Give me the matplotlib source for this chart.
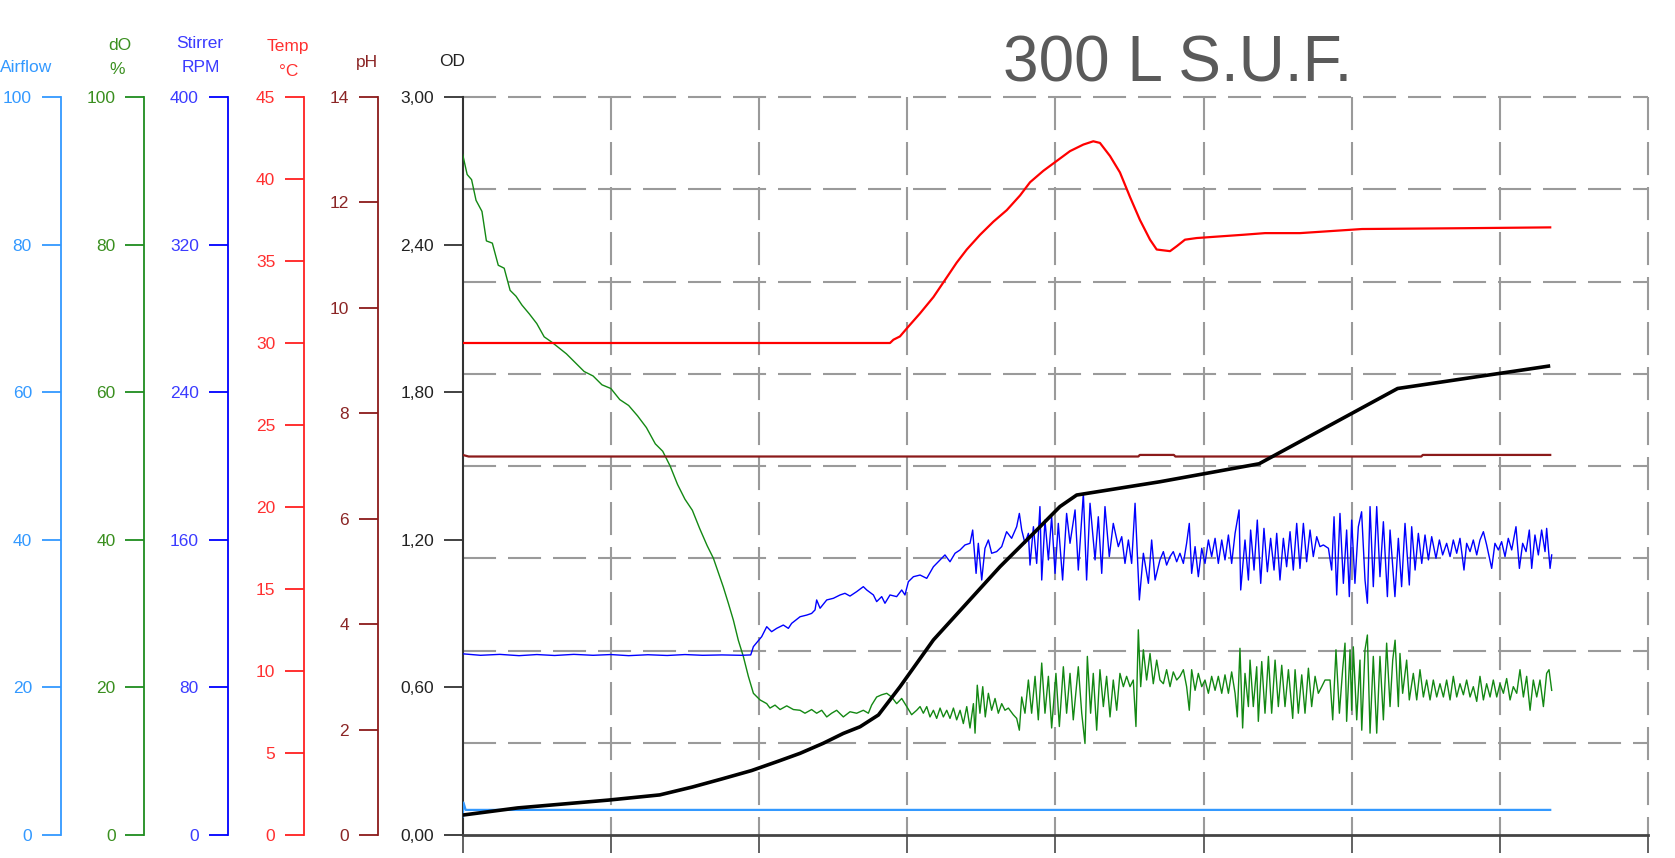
import matplotlib
matplotlib.use("Agg")
import matplotlib.pyplot as plt
import matplotlib.transforms as mtransforms

plt.rcParams['font.family'] = ['Liberation Sans', 'DejaVu Sans']
plt.rcParams['lines.scale_dashes'] = False

# ---------------- data (time in grid units 0..8) ----------------
title = "300 L S.U.F."

od_t = [0.000, 0.370, 0.985, 1.330, 1.550, 1.750, 1.950, 2.130, 2.277, 2.434,
        2.569, 2.682, 2.806, 2.952, 3.177, 3.402, 3.627, 3.852, 4.031, 4.144,
        4.706, 5.375, 6.310, 7.340]
od_val = [0.081, 0.110, 0.142, 0.163, 0.195, 0.228, 0.262, 0.300, 0.332, 0.373,
          0.413, 0.440, 0.488, 0.603, 0.793, 0.942, 1.091, 1.226, 1.335, 1.382,
          1.436, 1.509, 1.815, 1.907]

airflow_t = [0.000, 0.005, 0.020, 7.340]
airflow_val = [2.5, 4.4, 3.4, 3.4]

ph_t = [0.000, 0.040, 4.560, 4.570, 4.800, 4.810, 6.470, 6.480, 7.340]
ph_val = [7.21, 7.18, 7.18, 7.21, 7.21, 7.18, 7.18, 7.21, 7.21]

temp_t = [0.000, 2.884, 2.907, 2.951, 3.008, 3.086, 3.177, 3.267, 3.334, 3.402,
          3.492, 3.582, 3.672, 3.762, 3.829, 3.919, 4.009, 4.099, 4.189, 4.256,
          4.301, 4.369, 4.436, 4.504, 4.571, 4.639, 4.684, 4.774, 4.819, 4.875,
          4.954, 5.111, 5.269, 5.415, 5.651, 6.070, 6.760, 7.340]
temp_val = [30.0, 30.0, 30.2, 30.4, 31.0, 31.8, 32.8, 34.0, 34.9, 35.7,
            36.6, 37.4, 38.1, 39.0, 39.8, 40.5, 41.1, 41.7, 42.1, 42.3,
            42.2, 41.4, 40.4, 38.9, 37.5, 36.3, 35.7, 35.6, 35.9, 36.3,
            36.4, 36.5, 36.6, 36.7, 36.7, 36.95, 37.0, 37.05]

stirrer_t = [
    0.000, 0.120, 0.250, 0.380, 0.500, 0.620, 0.750, 0.880, 1.000, 1.120,
    1.250, 1.380, 1.500, 1.620, 1.750, 1.880, 1.944, 1.962, 2.018, 2.052,
    2.085, 2.119, 2.164, 2.198, 2.220, 2.277, 2.322, 2.355, 2.378, 2.389,
    2.412, 2.457, 2.502, 2.547, 2.580, 2.614, 2.659, 2.704, 2.727, 2.772,
    2.794, 2.828, 2.850, 2.884, 2.929, 2.963, 2.985, 3.008, 3.042, 3.087,
    3.132, 3.177, 3.222, 3.255, 3.289, 3.323, 3.357, 3.390, 3.424, 3.442,
    3.465, 3.480, 3.503, 3.525, 3.548, 3.570, 3.604, 3.638, 3.671, 3.705,
    3.739, 3.757, 3.773, 3.795, 3.818, 3.829, 3.852, 3.874, 3.896, 3.908,
    3.930, 3.953, 3.975, 3.998, 4.020, 4.049, 4.076, 4.099, 4.133, 4.155,
    4.189, 4.211, 4.234, 4.268, 4.290, 4.313, 4.335, 4.364, 4.391, 4.425,
    4.448, 4.470, 4.493, 4.515, 4.538, 4.567, 4.594, 4.628, 4.650, 4.673,
    4.706, 4.729, 4.751, 4.774, 4.796, 4.819, 4.841, 4.864, 4.886, 4.904,
    4.920, 4.943, 4.965, 4.988, 5.010, 5.033, 5.055, 5.078, 5.100, 5.123,
    5.145, 5.168, 5.190, 5.213, 5.240, 5.251, 5.280, 5.303, 5.318, 5.341,
    5.363, 5.386, 5.408, 5.431, 5.453, 5.476, 5.494, 5.516, 5.539, 5.561,
    5.584, 5.606, 5.629, 5.651, 5.674, 5.696, 5.719, 5.741, 5.764, 5.786,
    5.809, 5.843, 5.865, 5.881, 5.899, 5.921, 5.944, 5.966, 5.984, 6.000,
    6.022, 6.045, 6.067, 6.090, 6.106, 6.124, 6.146, 6.169, 6.191, 6.214,
    6.241, 6.259, 6.292, 6.315, 6.337, 6.360, 6.389, 6.405, 6.428, 6.450,
    6.473, 6.495, 6.518, 6.540, 6.569, 6.592, 6.614, 6.641, 6.664, 6.686,
    6.709, 6.731, 6.758, 6.776, 6.799, 6.821, 6.844, 6.866, 6.889, 6.911,
    6.945, 6.967, 6.990, 7.012, 7.035, 7.057, 7.080, 7.109, 7.132, 7.154,
    7.177, 7.199, 7.215, 7.237, 7.260, 7.282, 7.305, 7.316, 7.339, 7.350]
stirrer_val = [
    98.2, 97.4, 97.9, 97.2, 97.8, 97.3, 97.9, 97.4, 97.8, 97.2,
    97.7, 97.3, 97.8, 97.4, 97.6, 97.4, 97.6, 102.1, 107.5, 112.9,
    110.2, 112.0, 113.8, 112.0, 114.7, 118.3, 119.2, 120.1, 122.0, 127.4,
    122.9, 127.4, 128.3, 130.1, 131.0, 129.5, 131.9, 134.6, 132.8, 130.1,
    126.5, 129.2, 125.6, 130.1, 129.2, 132.8, 130.1, 137.3, 140.0, 140.9,
    139.1, 145.4, 149.1, 151.8, 148.1, 152.7, 154.5, 157.2, 158.1, 165.3,
    141.8, 158.1, 138.2, 155.4, 159.9, 152.7, 153.6, 156.3, 164.4, 160.8,
    167.1, 174.3, 165.3, 158.1, 163.5, 146.3, 167.1, 147.2, 178.0, 138.2,
    170.7, 149.1, 172.5, 141.8, 168.9, 138.2, 174.3, 158.1, 176.2, 143.6,
    185.2, 138.2, 179.8, 149.1, 172.5, 141.8, 178.0, 150.9, 168.9, 156.3,
    161.7, 147.2, 159.9, 147.2, 179.8, 127.4, 152.7, 136.4, 159.9, 138.2,
    149.1, 153.6, 146.3, 150.9, 153.6, 148.1, 152.7, 147.2, 158.1, 168.9,
    141.8, 156.3, 140.0, 155.4, 147.2, 159.9, 150.9, 160.8, 147.2, 159.9,
    149.1, 162.6, 147.2, 163.5, 176.2, 132.8, 159.9, 138.2, 165.3, 143.6,
    170.7, 136.4, 166.2, 142.7, 160.8, 143.6, 163.5, 138.2, 160.8, 145.4,
    164.4, 143.6, 168.9, 144.5, 168.9, 148.1, 165.3, 150.9, 161.7, 156.3,
    157.2, 155.4, 143.6, 172.5, 130.1, 174.3, 136.4, 165.3, 129.2, 170.7,
    136.4, 167.1, 175.2, 138.2, 125.6, 178.0, 134.6, 178.0, 140.0, 169.8,
    129.2, 165.3, 129.2, 160.8, 134.6, 168.9, 135.5, 167.1, 143.6, 163.5,
    147.2, 162.6, 149.1, 161.7, 150.0, 159.9, 151.8, 158.1, 150.9, 159.9,
    152.7, 160.8, 143.6, 158.1, 153.6, 159.9, 151.8, 159.9, 164.4, 157.2,
    144.5, 158.1, 154.5, 159.0, 150.9, 160.8, 154.5, 167.1, 144.5, 158.1,
    153.6, 165.3, 144.5, 162.6, 151.8, 165.3, 153.6, 166.2, 144.5, 151.8]

do_t = [
    0.000, 0.030, 0.060, 0.090, 0.130, 0.160, 0.200, 0.240, 0.280, 0.320,
    0.360, 0.400, 0.450, 0.500, 0.550, 0.600, 0.650, 0.700, 0.760, 0.820,
    0.880, 0.940, 1.000, 1.060, 1.120, 1.180, 1.240, 1.300, 1.350, 1.400,
    1.450, 1.500, 1.550, 1.600, 1.650, 1.692, 1.759, 1.793, 1.827, 1.860,
    1.894, 1.928, 1.962, 2.007, 2.052, 2.074, 2.108, 2.142, 2.187, 2.232,
    2.277, 2.310, 2.355, 2.389, 2.423, 2.457, 2.490, 2.524, 2.569, 2.614,
    2.659, 2.704, 2.738, 2.760, 2.794, 2.828, 2.862, 2.895, 2.929, 2.963,
    2.997, 3.030, 3.064, 3.087, 3.109, 3.132, 3.154, 3.177, 3.199, 3.222,
    3.244, 3.267, 3.289, 3.312, 3.334, 3.357, 3.379, 3.402, 3.424, 3.447,
    3.458, 3.473, 3.491, 3.510, 3.527, 3.548, 3.570, 3.593, 3.615, 3.638,
    3.660, 3.683, 3.716, 3.739, 3.757, 3.773, 3.795, 3.818, 3.840, 3.863,
    3.885, 3.908, 3.930, 3.953, 3.975, 4.004, 4.027, 4.054, 4.076, 4.099,
    4.121, 4.155, 4.178, 4.200, 4.216, 4.238, 4.256, 4.279, 4.301, 4.324,
    4.346, 4.369, 4.391, 4.414, 4.436, 4.459, 4.481, 4.504, 4.526, 4.544,
    4.560, 4.576, 4.594, 4.616, 4.639, 4.661, 4.684, 4.706, 4.729, 4.751,
    4.774, 4.796, 4.819, 4.841, 4.864, 4.886, 4.904, 4.920, 4.943, 4.965,
    4.988, 5.010, 5.033, 5.055, 5.078, 5.100, 5.123, 5.145, 5.168, 5.190,
    5.213, 5.228, 5.246, 5.264, 5.280, 5.303, 5.314, 5.336, 5.359, 5.370,
    5.393, 5.415, 5.438, 5.460, 5.483, 5.505, 5.528, 5.550, 5.573, 5.602,
    5.618, 5.640, 5.663, 5.685, 5.708, 5.730, 5.753, 5.775, 5.798, 5.820,
    5.854, 5.872, 5.894, 5.917, 5.939, 5.955, 5.966, 5.989, 6.000, 6.011,
    6.034, 6.056, 6.068, 6.090, 6.106, 6.124, 6.146, 6.169, 6.191, 6.214,
    6.236, 6.259, 6.277, 6.293, 6.315, 6.326, 6.344, 6.371, 6.389, 6.416,
    6.439, 6.461, 6.484, 6.506, 6.529, 6.551, 6.574, 6.596, 6.619, 6.641,
    6.664, 6.686, 6.709, 6.731, 6.754, 6.776, 6.799, 6.821, 6.844, 6.866,
    6.889, 6.911, 6.934, 6.956, 6.979, 7.001, 7.024, 7.046, 7.069, 7.091,
    7.114, 7.136, 7.159, 7.181, 7.204, 7.226, 7.249, 7.271, 7.294, 7.316,
    7.332, 7.350]
do_val = [
    92.2, 89.5, 88.8, 86.0, 84.5, 80.5, 80.2, 77.2, 76.8, 73.8,
    73.0, 71.8, 70.6, 69.3, 67.5, 66.8, 66.0, 65.2, 64.0, 62.8,
    62.2, 61.0, 60.5, 59.0, 58.2, 56.8, 55.2, 53.0, 52.0, 50.0,
    47.5, 45.5, 44.0, 41.5, 39.2, 37.5, 33.6, 31.4, 29.1, 26.4,
    24.2, 21.5, 19.2, 18.3, 17.8, 17.2, 17.6, 17.0, 17.5, 17.0,
    16.9, 16.5, 17.0, 16.5, 16.9, 16.0, 16.5, 16.9, 16.0, 16.7,
    16.5, 16.9, 16.5, 17.6, 18.7, 19.0, 19.2, 18.7, 17.8, 18.5,
    17.4, 16.3, 16.9, 17.4, 16.5, 17.4, 16.0, 16.9, 15.8, 17.2,
    16.0, 16.9, 15.8, 17.2, 15.6, 16.9, 15.1, 17.4, 14.5, 17.8,
    13.8, 20.3, 16.5, 20.1, 16.0, 19.2, 16.9, 18.5, 16.5, 17.8,
    16.9, 17.2, 16.3, 15.8, 14.2, 18.7, 16.5, 21.0, 16.5, 21.5,
    15.6, 23.3, 16.5, 21.5, 14.5, 21.9, 14.7, 22.8, 16.5, 21.9,
    15.6, 22.8, 16.5, 12.4, 24.2, 16.5, 21.9, 14.2, 22.4, 17.4,
    21.5, 16.0, 21.0, 16.9, 21.9, 20.1, 21.5, 20.1, 21.0, 14.7,
    27.8, 20.1, 25.1, 21.0, 24.6, 20.5, 23.7, 21.0, 20.5, 22.4,
    20.1, 22.1, 21.0, 21.5, 22.4, 20.1, 16.9, 22.4, 19.6, 21.9,
    20.1, 21.0, 19.2, 21.5, 19.6, 21.5, 19.2, 21.7, 19.2, 22.1,
    19.2, 16.0, 25.3, 14.5, 21.9, 17.4, 23.7, 17.4, 22.8, 15.4,
    23.5, 16.5, 24.2, 16.5, 23.7, 17.4, 23.0, 17.4, 22.4, 15.8,
    22.4, 16.5, 21.7, 16.5, 22.6, 17.4, 21.5, 19.2, 20.1, 21.0,
    21.0, 15.6, 25.1, 16.5, 22.4, 26.0, 15.4, 25.1, 16.9, 25.5,
    15.6, 23.7, 14.2, 25.1, 27.1, 13.8, 24.2, 13.8, 24.2, 15.6,
    26.0, 17.4, 23.7, 26.4, 17.4, 24.6, 19.2, 23.7, 18.3, 21.9,
    18.3, 22.4, 18.7, 21.0, 18.3, 21.0, 18.7, 20.5, 18.7, 21.0,
    18.3, 21.5, 18.7, 20.5, 19.0, 21.0, 18.7, 20.1, 18.1, 21.5,
    18.3, 20.5, 18.7, 21.0, 18.7, 20.5, 19.2, 21.2, 18.3, 20.1,
    19.2, 22.4, 18.7, 21.5, 16.9, 21.0, 18.7, 21.0, 17.4, 21.9,
    22.4, 19.6]

assert len(do_t) == len(do_val)
assert len(stirrer_t) == len(stirrer_val)
assert len(temp_t) == len(temp_val)
assert len(od_t) == len(od_val)

# axes scales
od_ticks = [0.0, 0.6, 1.2, 1.8, 2.4, 3.0]
od_ticklabels = ["0,00", "0,60", "1,20", "1,80", "2,40", "3,00"]
airflow_ticks = [0, 20, 40, 60, 80, 100]
do_ticks = [0, 20, 40, 60, 80, 100]
stirrer_ticks = [0, 80, 160, 240, 320, 400]
temp_ticks = [0, 5, 10, 15, 20, 25, 30, 35, 40, 45]
ph_ticks = [0, 2, 4, 6, 8, 10, 12, 14]
x_ticks = [0, 1, 2, 3, 4, 5, 6, 7, 8]
n_grid_rows = 8

# ---------------- figure ----------------
W, H = 1675, 858
fig = plt.figure(figsize=(W / 100, H / 100), dpi=100)
ax = fig.add_axes([462.7 / W, 23 / H, (1648 - 462.7) / W, 738 / H])
ax.set_xlim(0, 8)
ax.set_ylim(0, 3)
ax.set_xticks(x_ticks)
ax.set_xticklabels([])
ax.set_yticks(od_ticks)
ax.set_yticklabels(od_ticklabels)
for s in ['top', 'right']:
    ax.spines[s].set_visible(False)
ax.spines['left'].set_color('#333333')
ax.spines['left'].set_linewidth(1.5)
ax.spines['bottom'].set_color('#444444')
ax.spines['bottom'].set_linewidth(2.0)
ax.tick_params(axis='y', direction='out', length=13.7, width=1.3, colors='#333333',
               labelcolor='#222222', labelsize=12.5, pad=7)
ax.tick_params(axis='x', direction='out', length=13, width=1.3, colors='#555555')

grid_kw = dict(color='#9a9a9a', lw=1.5, dashes=(23.8, 8.6), clip_on=False, zorder=0.5)
xtr = ax.get_xaxis_transform()
for xt in x_ticks[1:]:
    ax.plot([xt, xt], [1, 0], transform=xtr, **grid_kw)
for k in range(1, n_grid_rows + 1):
    ax.plot([0, 1], [k / n_grid_rows, k / n_grid_rows], transform=ax.transAxes, **grid_kw)


def side_axis(frac, lim, ticks, color, labelcolor):
    t = ax.twinx()
    t.set_ylim(*lim)
    t.patch.set_visible(False)
    for s in ['right', 'top', 'bottom']:
        t.spines[s].set_visible(False)
    t.spines['left'].set_visible(True)
    t.spines['left'].set_position(('axes', frac))
    t.spines['left'].set_color(color)
    t.spines['left'].set_linewidth(1.3)
    t.yaxis.set_ticks_position('left')
    t.yaxis.set_label_position('left')
    t.set_yticks(ticks)
    t.tick_params(axis='y', direction='out', length=13.7, width=1.3, colors=color,
                  labelcolor=labelcolor, labelsize=12.5, pad=7)
    return t


ax_air = side_axis(-0.3392, (0, 100), airflow_ticks, '#3399ff', '#3399ff')
ax_do = side_axis(-0.2686, (0, 100), do_ticks, '#1f8c1f', '#3a8f1f')
ax_st = side_axis(-0.1983, (0, 400), stirrer_ticks, '#0000ff', '#3b3bff')
ax_tp = side_axis(-0.1339, (0, 45), temp_ticks, '#ff2020', '#ff3030')
ax_ph = side_axis(-0.0717, (0, 14), ph_ticks, '#8b1a1a', '#8b2525')

ax_air.plot(airflow_t, airflow_val, color='#3399ff', lw=1.6)
ax_ph.plot(ph_t, ph_val, color='#8b1a1a', lw=1.6)
ax_tp.plot(temp_t, temp_val, color='#ff0000', lw=1.6)
ax_do.plot(do_t, do_val, color='#138813', lw=1.0)
ax_st.plot(stirrer_t, stirrer_val, color='#0000ff', lw=1.0)

ax_od = ax.twinx()
ax_od.set_ylim(0, 3)
ax_od.patch.set_visible(False)
ax_od.axis('off')
ax_od.plot(od_t, od_val, color='black', lw=2.6, solid_capstyle='butt')

# ---------------- texts ----------------
def ftext(px, py, s, color, size=12.5, **kw):
    fig.text(px / W, 1 - py / H, s, color=color, fontsize=size,
             ha='center', va='center', **kw)

ftext(26, 68, "Airflow", '#3399ff')
ftext(120, 45, "dO", '#3a8f1f')
ftext(117, 70, "%", '#3a8f1f')
ftext(200, 44, "Stirrer", '#3b3bff')
ftext(201, 68, "RPM", '#3b3bff')
ftext(288, 47, "Temp", '#ff3030')
ftext(289, 71, "°C", '#ff3030')
ftext(367, 63, "pH", '#8b2525')
ftext(452, 61, "OD", '#222222')

fig.text(1178 / W, 1 - 81.7 / H, title, color='#5a5a5a', fontsize=46,
         ha='center', va='baseline')

fig.savefig("out.png", dpi=100)
